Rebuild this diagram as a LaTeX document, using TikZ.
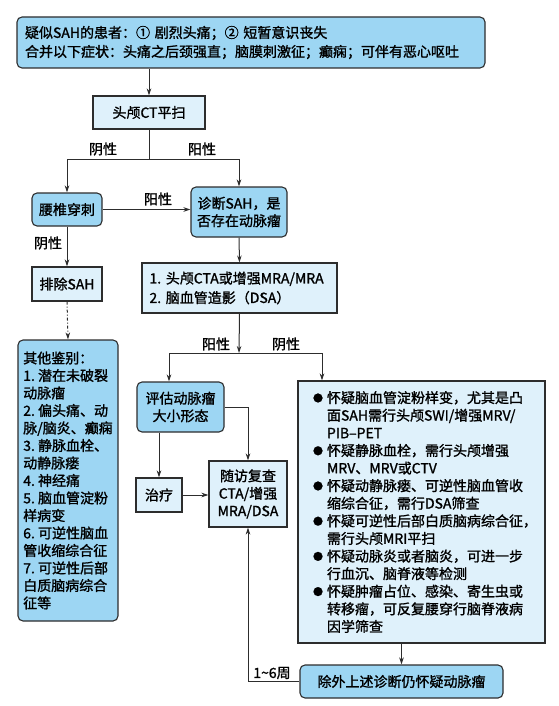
\documentclass[tikz,border=0pt]{standalone}
\usepackage{fontspec}
\setmainfont{Noto Sans CJK SC}[BoldFont={Noto Sans CJK SC}, BoldFeatures={FakeBold=1.3}]
\usetikzlibrary{arrows.meta,positioning,calc}
\definecolor{boxblue}{RGB}{157,214,243}
\definecolor{boxlight}{RGB}{223,241,251}
\definecolor{edge}{RGB}{45,45,45}
\newcommand{\bul}{\makebox[14pt][l]{\raisebox{1.2pt}{\fontsize{10}{10}\selectfont ●}}}
\newcommand{\ind}{\hspace*{14pt}}
\tikzset{
  darkbox/.style={draw=edge, line width=1.1pt, fill=boxblue, rounded corners=5pt, inner sep=0pt, font=\fontsize{14}{17.5}\selectfont\bfseries},
  lightbox/.style={draw=edge, line width=1.1pt, fill=boxlight, inner sep=0pt, font=\fontsize{14}{17.5}\selectfont\bfseries},
  arr/.style={draw=edge, line width=1pt, -{Stealth[length=7pt,width=4.5pt]}},
  lab/.style={font=\fontsize{14}{16}\selectfont\bfseries, inner sep=0pt}
}
\begin{document}
\begin{tikzpicture}[x=1pt,y=-1pt]
  \useasboundingbox (0,0) rectangle (558,706);
  \node[darkbox, minimum width=468pt, minimum height=51pt, text width=452pt, align=left, font=\fontsize{14}{19}\selectfont\bfseries] (top) at (251,42.5)
    {疑似SAH的患者：①~剧烈头痛；②~短暂意识丧失\\合并以下症状：头痛之后颈强直；脑膜刺激征；癫痫；可伴有恶心呕吐};
  \node[lightbox, minimum width=112pt, minimum height=33pt] (ct) at (149,112.5) {头颅CT平扫};
  \node[darkbox, minimum width=70pt, minimum height=33pt] (lp) at (67,209.5) {腰椎穿刺};
  \node[darkbox, minimum width=96pt, minimum height=50pt, align=center] (dx) at (239,212) {诊断SAH，是\\否存在动脉瘤};
  \node[lightbox, minimum width=70pt, minimum height=34pt] (excl) at (67,284) {排除SAH};
  \node[lightbox, minimum width=195pt, minimum height=50pt, text width=180pt, align=left, font=\fontsize{14}{19.5}\selectfont\bfseries] (cta) at (239.5,288)
    {1.~头颅CTA或增强MRA/MRA\\2.~脑血管造影（DSA）};
  \node[darkbox, minimum width=100pt, minimum height=281pt, align=left] (other) at (68,480.5)
    {其他鉴别：\\1.~潜在未破裂\\动脉瘤\\2.~偏头痛、动\\脉/脑炎、癫痫\\3.~静脉血栓、\\动静脉瘘\\4.~神经痛\\5.~脑血管淀粉\\样病变\\6.~可逆性脑血\\管收缩综合征\\7.~可逆性后部\\白质脑病综合\\征等};
  \node[darkbox, minimum width=87pt, minimum height=50pt, align=center] (eval) at (180.5,407) {评估动脉瘤\\大小形态};
  \node[lightbox, minimum width=46pt, minimum height=34pt] (treat) at (159,495) {治疗};
  \node[lightbox, minimum width=78pt, minimum height=66pt, align=center] (fu) at (248,494) {随访复查\\CTA/增强\\MRA/DSA};
  \node[lightbox, minimum width=247pt, minimum height=262pt, text width=217pt, align=left, font=\fontsize{14}{17.6}\selectfont\bfseries] (rbox) at (421.5,512)
    {\bul 怀疑脑血管淀粉样变，尤其是凸\\
     \ind 面SAH需行头颅SWI/增强MRV/\\
     \ind PIB–PET\\
     \bul 怀疑静脉血栓，需行头颅增强\\
     \ind MRV、MRV或CTV\\
     \bul 怀疑动静脉瘘、可逆性脑血管收\\
     \ind 缩综合征，需行DSA筛查\\
     \bul 怀疑可逆性后部白质脑病综合征，\\
     \ind 需行头颅MRI平扫\\
     \bul 怀疑动脉炎或者脑炎，可进一步\\
     \ind 行血沉、脑脊液等检测\\
     \bul 怀疑肿瘤占位、感染、寄生虫或\\
     \ind 转移瘤，可反复腰穿行脑脊液病\\
     \ind 因学筛查};
  \node[darkbox, minimum width=203pt, minimum height=33pt] (final) at (401.5,681.5) {除外上述诊断仍怀疑动脉瘤};

  \coordinate (j1) at (149,159);
  \coordinate (j2) at (239,353);
  \coordinate (ja) at (169,353);
  \coordinate (jb) at (322,353);

  \draw[arr] (ct.north |- top.south) -- (ct.north);
  \draw[draw=edge, line width=1pt] (ct.south) -- (j1);
  \draw[arr] (j1) -| (lp.north);
  \draw[arr] (j1) -| (dx.north);
  \node[lab] (neg1) at (103,149) {阴性};
  \node[lab] (pos1) at (202,149) {阳性};
  \draw[arr] (lp.east) -- (dx.west |- lp.east);
  \node[lab] (pos2) at (158,199) {阳性};
  \draw[arr] (lp.south) -- (excl.north);
  \node[lab] (neg2) at (48,243) {阴性};
  \draw[arr, dash dot] (excl.south) -- (other.north);
  \draw[arr] (dx.south) -- (cta.north);
  \draw[arr] (cta.south) -- (j2);
  \draw[draw=edge, line width=1pt] (ja) -- (jb);
  \draw[arr] (ja) -- (ja |- eval.north);
  \draw[arr] (jb) -- (jb |- rbox.north);
  \node[lab] (pos3) at (216,344) {阳性};
  \node[lab] (neg3) at (286,344) {阴性};
  \draw[arr] (eval.south -| treat.north) -- (treat.north);
  \draw[arr] (eval.east) -| (fu.north);
  \draw[arr] (treat.east) -- (fu.west |- treat.east);
  \draw[arr] (final.north |- rbox.south) -- (final.north);
  \draw[arr] (final.west) -| (fu.south);
  \node[lab] (wk) at (272,673) {1\textasciitilde6周};
\end{tikzpicture}
\end{document}
